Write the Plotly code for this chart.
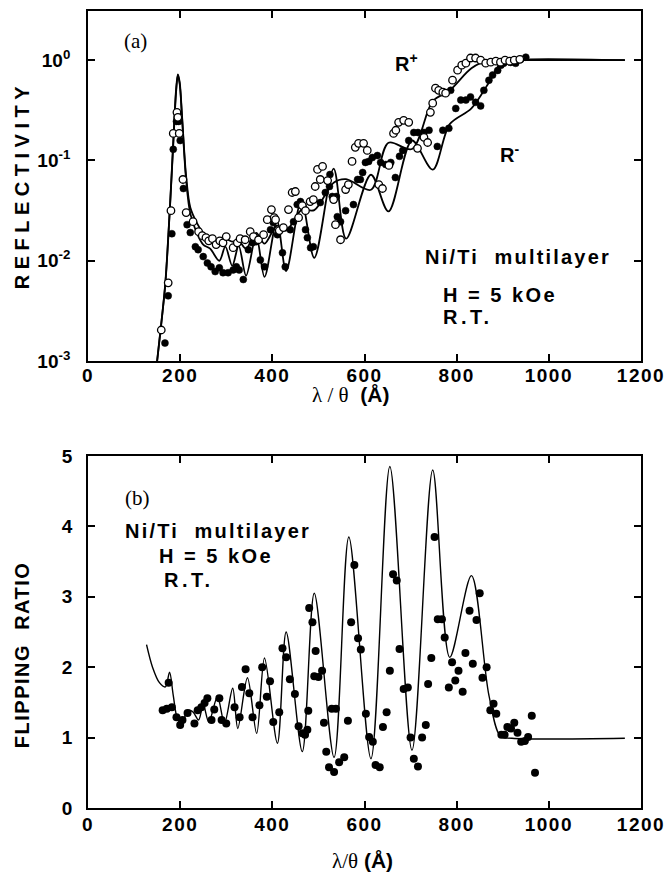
import plotly.graph_objects as go
from plotly.subplots import make_subplots

# ---------------- Panel (a): reflectivity ----------------
fit_x = [150, 160, 168, 178, 186, 191, 195, 199, 204, 213, 222, 236, 250, 265, 285, 298,
         313, 327, 343, 365, 383, 410, 430, 463, 491, 533, 560, 614, 652, 703, 748, 785,
         832, 870, 896, 920, 1165]
r_minus_fit = [0.0010, 0.0026, 0.0060, 0.035, 0.178, 0.47, 0.71, 0.575, 0.27, 0.063, 0.0295,
               0.019, 0.0145, 0.0132, 0.0100, 0.0138, 0.0089, 0.0141, 0.0071, 0.0178, 0.0069,
               0.025, 0.0079, 0.040, 0.0107, 0.083, 0.0166, 0.072, 0.031, 0.158, 0.081, 0.23,
               0.33, 0.60, 0.93, 1.0, 1.0]
r_plus_fit = [0.0010, 0.0026, 0.0062, 0.036, 0.19, 0.50, 0.72, 0.60, 0.28, 0.069, 0.034,
              0.024, 0.019, 0.0174, 0.0155, 0.0166, 0.0155, 0.0158, 0.0132, 0.019, 0.0148,
              0.0224, 0.020, 0.032, 0.032, 0.060, 0.065, 0.051, 0.15, 0.13, 0.39, 0.50,
              0.83, 1.0, 1.0, 1.0, 1.0]

rp_x = [159, 174, 180, 185, 193, 195, 198, 206, 213, 228, 240, 248, 256, 262, 270, 278, 286,
        293, 300, 315, 324, 330, 341, 352, 359, 370, 381, 389, 398, 404, 407, 415, 424, 435,
        443, 450, 457, 465, 472, 482, 489, 493, 498, 504, 509, 520, 533, 537, 548, 559, 565,
        573, 580, 587, 598, 606, 631, 639, 653, 663, 668, 674, 685, 696, 715, 729, 737, 743,
        748, 754, 761, 770, 776, 791, 802, 811, 820, 830, 841, 852, 863, 874, 885, 895, 905,
        915, 925, 937]
rp_y = [0.00204, 0.00603, 0.0316, 0.186, 0.302, 0.269, 0.186, 0.0646, 0.0302, 0.0245, 0.0195,
        0.0178, 0.0170, 0.0158, 0.0166, 0.0145, 0.0158, 0.0151, 0.0174, 0.0135, 0.0151, 0.0166,
        0.0162, 0.0195, 0.0174, 0.0162, 0.0182, 0.0257, 0.0324, 0.0269, 0.0257, 0.020, 0.0214,
        0.0324, 0.0479, 0.049, 0.0269, 0.0355, 0.0316, 0.0389, 0.0407, 0.055, 0.0813, 0.0646,
        0.0871, 0.063, 0.0407, 0.0229, 0.0162, 0.0513, 0.0575, 0.0977, 0.135, 0.148, 0.148,
        0.126, 0.0575, 0.0525, 0.0891, 0.186, 0.20, 0.24, 0.251, 0.24, 0.132, 0.17, 0.151,
        0.302, 0.372, 0.525, 0.50, 0.479, 0.468, 0.631, 0.794, 0.891, 0.933, 1.05, 1.05, 1.0,
        0.933, 0.955, 0.977, 0.955, 1.0, 0.977, 1.0, 1.02]

rm_x = [167, 174, 182, 185, 192, 197, 200, 207, 215, 222, 233, 239, 250, 259, 267, 276, 285,
        293, 304, 315, 322, 328, 337, 348, 357, 365, 374, 383, 396, 402, 411, 422, 428, 439,
        446, 454, 461, 467, 472, 476, 483, 489, 504, 515, 524, 525, 530, 539, 541, 548, 559,
        576, 585, 591, 596, 602, 609, 617, 628, 635, 646, 657, 667, 676, 683, 696, 707, 716,
        729, 740, 758, 770, 783, 787, 798, 809, 820, 830, 841, 852, 859, 870, 878, 889, 896,
        902, 917, 928, 939, 950]
rm_y = [0.00151, 0.00447, 0.0186, 0.129, 0.245, 0.245, 0.158, 0.0525, 0.0229, 0.0191, 0.0138,
        0.0129, 0.0110, 0.0095, 0.0087, 0.0078, 0.0085, 0.0076, 0.0076, 0.0081, 0.0087, 0.0081,
        0.0065, 0.0129, 0.0151, 0.0155, 0.0102, 0.0087, 0.0204, 0.024, 0.0182, 0.012, 0.0087,
        0.0204, 0.0245, 0.0363, 0.0389, 0.0347, 0.0204, 0.017, 0.0135, 0.0138, 0.038, 0.0479,
        0.055, 0.0724, 0.0437, 0.0437, 0.0275, 0.0245, 0.0316, 0.0363, 0.0646, 0.0646, 0.0759,
        0.0955, 0.0977, 0.107, 0.112, 0.0955, 0.0912, 0.0955, 0.0676, 0.11, 0.126, 0.158, 0.19,
        0.19, 0.19, 0.20, 0.138, 0.20, 0.209, 0.50, 0.33, 0.40, 0.40, 0.43, 0.38, 0.35, 0.50,
        0.63, 0.71, 0.79, 0.89, 0.93, 0.95, 0.93, 1.02, 1.07]

# ---------------- Panel (b): flipping ratio ----------------
fr_fit_x = [127, 140, 155, 168, 177, 185, 195, 205, 215, 227, 240, 250, 262, 281, 296, 314,
            325, 346, 366, 383, 411, 430, 465, 491, 534, 566, 614, 655, 703, 748, 785, 832,
            870, 895, 920, 1165]
fr_fit_y = [2.32, 2.0, 1.78, 1.72, 1.93, 1.6, 1.25, 1.2, 1.38, 1.37, 1.25, 1.47, 1.22, 1.58,
            1.2, 1.70, 1.13, 1.85, 1.06, 2.13, 0.92, 2.50, 0.80, 3.05, 0.72, 3.85, 0.70, 4.85,
            0.82, 4.80, 2.14, 3.30, 1.60, 1.02, 0.99, 0.99]

fr_x = [162, 171, 175, 182, 192, 200, 205, 216, 231, 238, 246, 253, 259, 268, 274, 285, 290,
        300, 318, 329, 334, 342, 350, 357, 372, 378, 388, 395, 402, 415, 422, 430, 438, 449,
        457, 465, 471, 476, 478, 480, 487, 494, 491, 500, 508, 512, 517, 523, 534, 529, 538,
        545, 556, 564, 571, 578, 586, 592, 603, 610, 618, 624, 633, 640, 648, 655, 662, 670,
        676, 685, 694, 700, 707, 716, 725, 733, 738, 745, 752, 759, 768, 774, 783, 790, 797,
        804, 813, 819, 828, 835, 843, 850, 856, 865, 873, 880, 886, 897, 904, 910, 918, 925,
        932, 940, 948, 955, 963, 970]
fr_y = [1.39, 1.41, 1.78, 1.43, 1.29, 1.18, 1.25, 1.35, 1.20, 1.39, 1.43, 1.49, 1.56, 1.25,
        1.40, 1.56, 1.25, 1.20, 1.43, 1.29, 1.72, 1.97, 1.63, 1.29, 1.46, 2.00, 1.58, 1.80,
        1.22, 1.36, 2.27, 2.14, 1.83, 1.62, 1.16, 1.06, 1.04, 1.11, 1.38, 2.84, 2.64, 2.23,
        1.87, 1.86, 1.95, 1.21, 0.80, 0.58, 0.51, 1.41, 1.41, 0.65, 0.72, 1.24, 2.64, 3.45,
        2.41, 2.25, 1.34, 1.01, 0.94, 0.61, 0.58, 1.15, 1.36, 1.95, 3.32, 3.23, 2.26, 1.69,
        1.71, 1.00, 0.70, 0.59, 1.00, 1.18, 1.76, 2.13, 3.85, 2.68, 2.68, 2.42, 1.71, 2.07,
        1.81, 1.95, 1.65, 2.20, 2.80, 2.05, 2.67, 3.05, 1.85, 2.00, 1.39, 1.48, 1.34, 1.04,
        1.04, 1.15, 1.13, 1.21, 1.07, 0.94, 0.95, 1.01, 1.31, 0.50]

x_ticks = [0, 200, 400, 600, 800, 1000, 1200]
x_ticktext = ["0", "200", "400", "600", "800", "1000", "1200"]
refl_ticks = [0.001, 0.01, 0.1, 1]
refl_ticktext = ["10<sup>-3</sup>", "10<sup>-2</sup>", "10<sup>-1</sup>", "10<sup>0</sup>"]
fr_ticks = [0, 1, 2, 3, 4, 5]
fr_ticktext = ["0", "1", "2", "3", "4", "5"]

SANS = "Liberation Sans, Arial, sans-serif"
SERIF = "Liberation Serif, Times New Roman, serif"


def spaced(t, px):
    return f"<span style='letter-spacing:{px}px'>{t}</span>"


fig = make_subplots(rows=2, cols=1, vertical_spacing=0.0)

fig.add_trace(go.Scatter(x=fit_x, y=r_plus_fit, mode="lines", line=dict(color="black", width=1.8, shape="spline", smoothing=0.9), showlegend=False), row=1, col=1)
fig.add_trace(go.Scatter(x=fit_x, y=r_minus_fit, mode="lines", line=dict(color="black", width=1.8, shape="spline", smoothing=0.9), showlegend=False), row=1, col=1)
fig.add_trace(go.Scatter(x=rm_x, y=rm_y, mode="markers", marker=dict(symbol="circle", size=7, color="black", line=dict(color="black", width=0.5)), showlegend=False), row=1, col=1)
fig.add_trace(go.Scatter(x=rp_x, y=rp_y, mode="markers", marker=dict(symbol="circle", size=7.5, color="white", line=dict(color="black", width=1.3)), showlegend=False), row=1, col=1)

fig.add_trace(go.Scatter(x=fr_fit_x, y=fr_fit_y, mode="lines", line=dict(color="black", width=1.4, shape="spline", smoothing=0.9), showlegend=False), row=2, col=1)
fig.add_trace(go.Scatter(x=fr_x, y=fr_y, mode="markers", marker=dict(symbol="circle", size=8, color="black"), showlegend=False), row=2, col=1)

axis_common = dict(showline=True, linecolor="black", linewidth=1.8, mirror="ticks", ticks="inside",
                   ticklen=7, tickwidth=1.8, tickcolor="black", showgrid=False, zeroline=False,
                   automargin=False,
                   tickfont=dict(family=SANS, size=19, color="black", weight="bold"))

fig.update_layout(
    width=670, height=880, paper_bgcolor="white", plot_bgcolor="white",
    margin=dict(l=88, r=29, t=11, b=72, autoexpand=False),
    xaxis=dict(domain=[0, 1], range=[0, 1200], tickvals=x_ticks,
               ticktext=[spaced(t, 1.5) for t in x_ticktext], ticklabelstandoff=-4, **axis_common),
    yaxis=dict(domain=[0.5608, 1.0], type="log", range=[-3, 0.49], tickvals=refl_ticks,
               ticktext=refl_ticktext, ticklabelstandoff=12, **axis_common),
    xaxis2=dict(domain=[0, 1], range=[0, 1200], tickvals=x_ticks,
                ticktext=[spaced(t, 1.5) for t in x_ticktext], ticklabelstandoff=-2, **axis_common),
    yaxis2=dict(domain=[0, 0.4417], range=[0, 5], tickvals=fr_ticks, ticktext=fr_ticktext,
                ticklabelstandoff=10, **axis_common),
)


def ann(text, x, y, xref, yref, size, family=SANS, bold=True, xanchor="left", yanchor="middle", angle=0):
    fig.add_annotation(text=text, x=x, y=y, xref=xref, yref=yref, showarrow=False,
                       xanchor=xanchor, yanchor=yanchor, textangle=angle,
                       font=dict(family=family, size=size, color="black", weight="bold" if bold else "normal"))


# panel (a) labels
ann("(a)", 104, 0.19, "x", "y", 21, family=SERIF, bold=False, xanchor="center")
ann("R<sup>+</sup>", 661, -0.02, "x", "y", 20)
ann("R<sup>-</sup>", 889, -0.93, "x", "y", 20)
ann(spaced("Ni/Ti  multilayer", 2.2), 728, -1.96, "x", "y", 20)
ann(spaced("H = 5 kOe", 2.5), 765, -2.34, "x", "y", 20)
ann(spaced("R.T.", 3.5), 765, -2.56, "x", "y", 20)

# panel (b) labels
ann("(b)", 108, 4.40, "x2", "y2", 21, family=SERIF, bold=False, xanchor="center")
ann(spaced("Ni/Ti  multilayer", 2.2), 76, 3.93, "x2", "y2", 20)
ann(spaced("H = 5 kOe", 2.5), 149, 3.58, "x2", "y2", 20)
ann(spaced("R.T.", 3.5), 160, 3.24, "x2", "y2", 20)

# axis titles
ann(spaced("REFLECTIVITY", 5.5), -0.119, (808 - 185) / 797, "paper", "paper", 20, xanchor="center", angle=-90)
ann(spaced("FLIPPING  RATIO", 1.5), -0.119, (808 - 655) / 797, "paper", "paper", 20, xanchor="center", angle=-90)

fig.add_annotation(text="<span style='font-family:Liberation Serif'>λ / θ</span>  <b>(Å)</b>",
                   xref="paper", yref="paper", x=0.474, y=(808 - 395) / 797,
                   showarrow=False, xanchor="center", yanchor="middle",
                   font=dict(family=SANS, size=21, color="black"))
fig.add_annotation(text="<span style='font-family:Liberation Serif'>λ/θ</span> <b>(Å)</b>",
                   xref="paper", yref="paper", x=0.4955, y=(808 - 861) / 797,
                   showarrow=False, xanchor="center", yanchor="middle",
                   font=dict(family=SANS, size=21, color="black"))

fig.write_html("out.html", config={"displayModeBar": False},
               post_script="document.body.style.margin='0';document.body.style.overflow='hidden';")
